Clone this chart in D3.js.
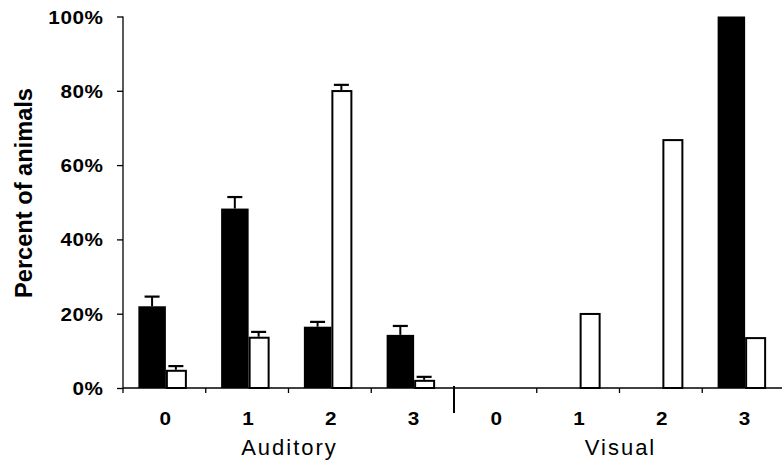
<!DOCTYPE html>
<html>
<head>
<meta charset="utf-8">
<script src="https://cdn.jsdelivr.net/npm/d3@7"></script>
<style>
  html, body { margin: 0; padding: 0; background: #fff; }
  svg { display: block; }
</style>
</head>
<body>
<div id="chart"></div>
<script>
// ---- data ----
const categories = ["A0", "A1", "A2", "A3", "V0", "V1", "V2", "V3"];
const tickLabels = ["0", "1", "2", "3", "0", "1", "2", "3"];
const groupNames = ["Auditory", "Visual"];
const blackValues = [22, 48.3, 16.5, 14.3, 0, 0, 0, 100];
const whiteValues = [4.9, 13.8, 80.2, 2.2, 0, 20.2, 67, 13.7];
const blackErr = [2.6, 3.1, 1.3, 2.4, null, null, null, null];
const whiteErr = [1.0, 1.3, 1.4, 0.8, null, null, null, null];
const yTicks = [0, 20, 40, 60, 80, 100];

// ---- layout ----
const W = 782, H = 463;
const svg = d3.select("#chart").append("svg").attr("width", W).attr("height", H);

const x0 = d3.scaleBand().domain(categories).range([123, 785]).padding(0);
const bw = x0.bandwidth();
const y = d3.scaleLinear().domain([0, 100]).range([388, 16.5]);
const font = "'Liberation Sans', Arial, sans-serif";
const sx = 1.15; // horizontal stretch of tick label glyphs

// bars
const g = svg.append("g");
categories.forEach((c, i) => {
  const cx = x0(c) + bw / 2;
  const bv = blackValues[i];
  if (bv > 0) {
    g.append("rect")
      .attr("x", cx - 26).attr("width", 27.5)
      .attr("y", y(bv)).attr("height", y(0) - y(bv))
      .attr("fill", "#000");
  }
  const wv = whiteValues[i];
  if (wv > 0) {
    g.append("rect")
      .attr("x", cx + 2.5).attr("width", 19)
      .attr("y", y(wv) + 1).attr("height", y(0) - y(wv) - 1)
      .attr("fill", "#fff").attr("stroke", "#000").attr("stroke-width", 2);
  }
  // error bars (upper only)
  const eb = blackErr[i];
  if (eb != null) {
    const ex = cx - 12.3;
    g.append("line").attr("x1", ex).attr("x2", ex)
      .attr("y1", y(bv)).attr("y2", y(bv + eb))
      .attr("stroke", "#000").attr("stroke-width", 2);
    g.append("line").attr("x1", ex - 7.5).attr("x2", ex + 7.5)
      .attr("y1", y(bv + eb)).attr("y2", y(bv + eb))
      .attr("stroke", "#000").attr("stroke-width", 2.2);
  }
  const ew = whiteErr[i];
  if (ew != null) {
    const ex = cx + 11.5;
    g.append("line").attr("x1", ex).attr("x2", ex)
      .attr("y1", y(wv)).attr("y2", y(wv + ew))
      .attr("stroke", "#000").attr("stroke-width", 2);
    g.append("line").attr("x1", ex - 7.5).attr("x2", ex + 7.5)
      .attr("y1", y(wv + ew)).attr("y2", y(wv + ew))
      .attr("stroke", "#000").attr("stroke-width", 2.2);
  }
});

// y axis
const yAxis = d3.axisLeft(y).tickValues(yTicks).tickSize(6).tickPadding(14)
  .tickFormat(d => d + "%");
const ya = svg.append("g").attr("transform", "translate(123,0)").call(yAxis);
ya.attr("font-size", null).attr("font-family", null);
ya.select(".domain").attr("stroke", "#000").attr("stroke-width", 1.3)
  .attr("d", `M0,${y(100)}V${y(0)}`);
ya.selectAll(".tick line").attr("stroke", "#000").attr("stroke-width", 1.3);
ya.selectAll(".tick text")
  .style("font-family", font).style("font-size", "18px").style("font-weight", "bold")
  .style("letter-spacing", "0.5px").attr("fill", "#000")
  .attr("dy", null).attr("y", 6.5).attr("x", -19.5 / sx)
  .attr("transform", `scale(${sx},1)`);

// x axis
const xa = svg.append("g");
xa.append("line").attr("x1", 123).attr("x2", W).attr("y1", y(0)).attr("y2", y(0))
  .attr("stroke", "#000").attr("stroke-width", 1.3);
categories.forEach((c, i) => {
  const bx = x0(c);
  if (i === 4) {
    xa.append("line").attr("x1", bx).attr("x2", bx).attr("y1", 386).attr("y2", 413)
      .attr("stroke", "#000").attr("stroke-width", 2);
  } else {
    xa.append("line").attr("x1", bx).attr("x2", bx).attr("y1", y(0)).attr("y2", y(0) + 5)
      .attr("stroke", "#000").attr("stroke-width", 1.3);
  }
  xa.append("text")
    .attr("transform", `translate(${bx + bw / 2 + 1},425) scale(${sx},1)`)
    .attr("text-anchor", "middle")
    .style("font-family", font).style("font-size", "18px").style("font-weight", "bold")
    .text(tickLabels[i]);
});

// group labels
groupNames.forEach((name, k) => {
  const cx = x0(categories[k * 4]) + 2 * bw;
  svg.append("text").attr("x", cx + 1).attr("y", 455)
    .attr("text-anchor", "middle")
    .style("font-family", font).style("font-size", "22px")
    .style("letter-spacing", "2px")
    .text(name);
});

// y title
svg.append("text")
  .attr("transform", "translate(32,193) rotate(-90)")
  .attr("text-anchor", "middle")
  .style("font-family", font).style("font-size", "23px").style("font-weight", "bold")
  .attr("textLength", 210).attr("lengthAdjust", "spacingAndGlyphs")
  .text("Percent of animals");
</script>
</body>
</html>
